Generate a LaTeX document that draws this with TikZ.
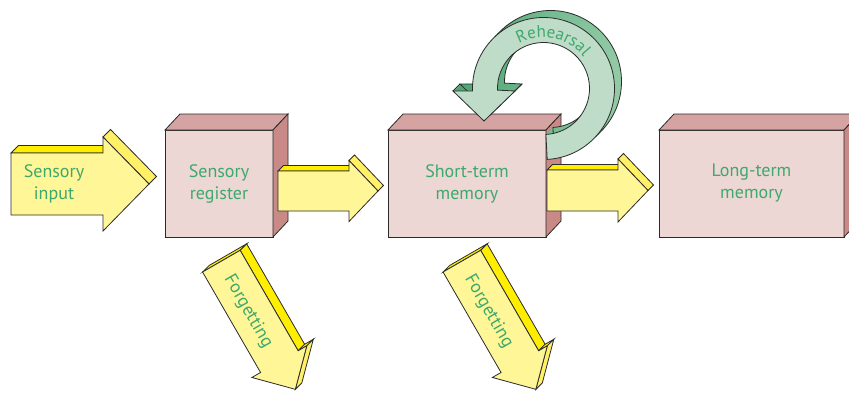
\documentclass[tikz,border=0pt]{standalone}
\usepackage{fontspec}
\setmainfont{PT Sans}
\usetikzlibrary{calc,decorations.text}

\definecolor{txtgreen}{HTML}{3FA86C}
\definecolor{boxfront}{HTML}{ECD7D5}
\definecolor{boxtop}{HTML}{D5A3A1}
\definecolor{boxside}{HTML}{C98987}
\definecolor{yfront}{HTML}{FFF697}
\definecolor{ytop}{HTML}{FFEE00}
\definecolor{yflank}{HTML}{FFF066}
\definecolor{ringfront}{HTML}{BEDCC8}
\definecolor{ringdark}{HTML}{4DA573}
\definecolor{ringlight}{HTML}{93CBA6}
\definecolor{edge}{HTML}{2B2B2B}

\tikzset{
  outline/.style={draw=edge, line width=0.8pt, line join=miter},
  label text/.style={text=txtgreen, font=\fontsize{18}{22}\selectfont, align=center, inner sep=0pt},
  memory box/.style={outline, fill=boxfront, outer sep=0pt, inner sep=0pt,
    minimum height=107pt, label text},
}

% side faces of a cuboid drawn behind node #1, depth vector #2
\newcommand{\cuboidfaces}[2]{%
  \filldraw[outline, fill=boxtop] (#1.north west) -- ($(#1.north west)+(#2)$)
    -- ($(#1.north east)+(#2)$) -- (#1.north east) -- cycle;
  \filldraw[outline, fill=boxside] (#1.north east) -- ($(#1.north east)+(#2)$)
    -- ($(#1.south east)+(#2)$) -- (#1.south east) -- cycle;
}

% horizontal block arrow: left x, axis y, head base x, tip x, half shaft, half head, depth, name
\newcommand{\flatarrow}[8]{%
  \coordinate (#8-s1) at (#1,#2+#5);
  \coordinate (#8-s2) at (#3,#2+#5);
  \coordinate (#8-h1) at (#3,#2+#6);
  \coordinate (#8-tip) at (#4,#2);
  \coordinate (#8-h2) at (#3,#2-#6);
  \coordinate (#8-s3) at (#3,#2-#5);
  \coordinate (#8-s4) at (#1,#2-#5);
  \filldraw[outline, fill=ytop] (#8-s1) -- ++(#7,#7) -- ($(#8-s2)+(#7,#7)$) -- (#8-s2) -- cycle;
  \filldraw[outline, fill=yflank] (#8-h1) -- ++(#7,#7) -- ($(#8-tip)+(#7,#7)$) -- (#8-tip) -- cycle;
  \filldraw[outline, fill=yfront] (#8-s1) -- (#8-s2) -- (#8-h1) -- (#8-tip)
    -- (#8-h2) -- (#8-s3) -- (#8-s4) -- cycle;
}

% slanted block arrow pointing down-right: name, start point, label
\newcommand{\slantarrow}[3]{%
  \begin{scope}[shift={#2}, rotate=-60]
    \coordinate (#1-a) at (0,-21.7);
    \coordinate (#1-b) at (0,21.7);
    \coordinate (#1-c) at (116,-21.7);
    \coordinate (#1-d) at (116,-31.7);
    \coordinate (#1-t) at (148,0);
    \coordinate (#1-e) at (116,31.7);
    \coordinate (#1-f) at (116,21.7);
    \coordinate (#1-m) at (57,-2);
  \end{scope}
  \filldraw[outline, fill=ytop] (#1-a) -- ++(6.5,6.5) -- ($(#1-b)+(6.5,6.5)$) -- (#1-b) -- cycle;
  \filldraw[outline, fill=ytop] (#1-b) -- ++(6.5,6.5) -- ($(#1-f)+(6.5,6.5)$) -- (#1-f) -- cycle;
  \filldraw[outline, fill=ytop] (#1-f) -- ++(6.5,6.5) -- ($(#1-e)+(6.5,6.5)$) -- (#1-e) -- cycle;
  \filldraw[outline, fill=yflank] (#1-e) -- ++(6.5,6.5) -- ($(#1-t)+(6.5,6.5)$) -- (#1-t) -- cycle;
  \filldraw[outline, fill=yfront] (#1-a) -- (#1-c) -- (#1-d) -- (#1-t) -- (#1-e) -- (#1-f) -- (#1-b) -- cycle;
  \node[label text, rotate=-60] (#1-lbl) at (#1-m) {#3};
}

% the looping rehearsal arrow above short-term memory
\newcommand{\loopshape}[1]{%
  \path[#1] ($(543.5,-88.5)+(-87:71)$) arc[start angle=-87, end angle=182, radius=71]
    -- (453,-91) -- (484,-121) -- (515,-91)
    -- ($(543.5,-88.5)+(182:46)$) arc[start angle=182, end angle=-87, radius=46] -- cycle;
}

\begin{document}
\begin{tikzpicture}[x=1pt, y=1pt]
\useasboundingbox (0,0) rectangle (849,-392);
\clip (0,0) rectangle (849,-392);

% sensory input
\flatarrow{11}{-184}{103}{149}{31}{47}{7.5}{in}
\node[label text] (input) at (54,-183.5) {Sensory\\input};

% sensory register
\node[memory box, minimum width=108pt] (reg) at (219,-183.5) {Sensory\\register};
\cuboidfaces{reg}{15,16}

% register -> short-term
\flatarrow{278}{-191}{349}{378}{20}{30.5}{5.5}{rs}

% short-term memory
\node[memory box, minimum width=158pt] (stm) at (467,-183.5) {Short-term\\memory};
\cuboidfaces{stm}{15,16}

% short-term -> long-term
\flatarrow{547}{-190.5}{618}{648}{20.5}{31.5}{5.5}{sl}

% long-term memory
\node[memory box, minimum width=185pt] (ltm) at (751.5,-183.5) {Long-term\\memory};
\cuboidfaces{ltm}{15,16}

% forgetting
\slantarrow{fa}{(221.35,-261.15)}{Forgetting}
\slantarrow{fb}{(461.85,-261.15)}{Forgetting}

% rehearsal loop: extruded back, then front face
\foreach \s in {7,6.5,...,0.5} {\loopshape{left color=ringdark, right color=ringlight, shift={(\s,\s)}}}
\loopshape{outline, shift={(7,7)}}
\draw[outline] (453,-91) -- ++(7,7) (515,-91) -- ++(7,7);
\loopshape{outline, fill=ringfront}
\path[decorate, decoration={text along path, text align=center, text color=txtgreen,
    text={|\fontsize{17}{17}\selectfont|Rehearsal}}]
  ($(543.5,-88.5)+(128:51)$) arc[start angle=128, end angle=29, radius=51];
\end{tikzpicture}
\end{document}
